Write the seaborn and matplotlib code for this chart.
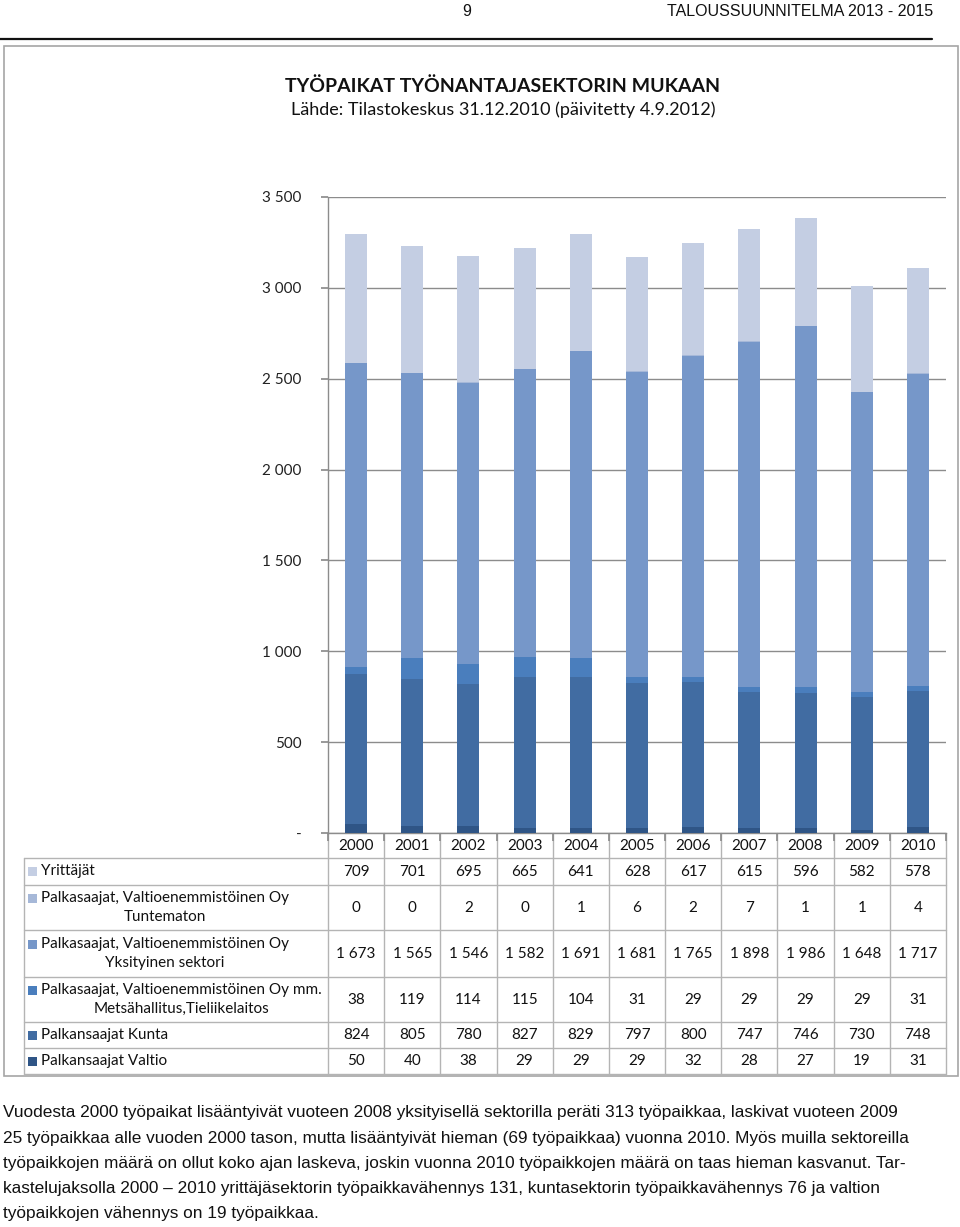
import numpy as np
import pandas as pd
import matplotlib
matplotlib.use("Agg")
import matplotlib.pyplot as plt
from matplotlib import font_manager as fm
from matplotlib.patches import Rectangle
import seaborn as sns

# ---------------- data ----------------
years = ["2000", "2001", "2002", "2003", "2004", "2005", "2006", "2007", "2008", "2009", "2010"]
valtio = [50, 40, 38, 29, 29, 29, 32, 28, 27, 19, 31]
kunta = [824, 805, 780, 827, 829, 797, 800, 747, 746, 730, 748]
metsa = [38, 119, 114, 115, 104, 31, 29, 29, 29, 29, 31]
yksityinen = [1673, 1565, 1546, 1582, 1691, 1681, 1765, 1898, 1986, 1648, 1717]
tuntematon = [0, 0, 2, 0, 1, 6, 2, 7, 1, 1, 4]
yrittajat = [709, 701, 695, 665, 641, 628, 617, 615, 596, 582, 578]

series_names = ["Palkansaajat Valtio", "Palkansaajat Kunta",
                "Palkasaajat, Valtioenemmistöinen Oy mm.\nMetsähallitus,Tieliikelaitos",
                "Palkasaajat, Valtioenemmistöinen Oy\nYksityinen sektori",
                "Palkasaajat, Valtioenemmistöinen Oy\nTuntematon",
                "Yrittäjät"]
series_vals = [valtio, kunta, metsa, yksityinen, tuntematon, yrittajat]
colors = ["#2f5586", "#416ca2", "#4a7ebd", "#7697c9", "#a6b8d8", "#c4cee3"]
yticks = [0, 500, 1000, 1500, 2000, 2500, 3000, 3500]
ytick_labels = ["-", "500", "1 000", "1 500", "2 000", "2 500", "3 000", "3 500"]

title = "TYÖPAIKAT TYÖNANTAJASEKTORIN MUKAAN"
subtitle = "Lähde: Tilastokeskus 31.12.2010 (päivitetty 4.9.2012)"
page_no = "9"
page_header = "TALOUSSUUNNITELMA 2013 - 2015"
paragraph = [
    "Vuodesta 2000 työpaikat lisääntyivät vuoteen 2008 yksityisellä sektorilla peräti 313 työpaikkaa, laskivat vuoteen 2009",
    "25 työpaikkaa alle vuoden 2000 tason, mutta lisääntyivät hieman (69 työpaikkaa) vuonna 2010. Myös muilla sektoreilla",
    "työpaikkojen määrä on ollut koko ajan laskeva, joskin vuonna 2010 työpaikkojen määrä on taas hieman kasvanut. Tar-",
    "kastelujaksolla 2000 – 2010 yrittäjäsektorin työpaikkavähennys 131, kuntasektorin työpaikkavähennys 76 ja valtion",
    "työpaikkojen vähennys on 19 työpaikkaa.",
]

def fmt(v):
    return f"{v:,}".replace(",", " ")

# ---------------- fonts ----------------
sns.set_theme(style="white")
avail = {f.name for f in fm.fontManager.ttflist}
if "Liberation Sans Narrow" in avail:
    narrow, para_size, head_size = "Liberation Sans Narrow", 13.3 * 1.10, 13 * 1.05
else:
    narrow, para_size, head_size = "Liberation Sans", 11.3 * 1.10, 11 * 1.05
cfont = "Lato" if "Lato" in avail else "DejaVu Sans"
plt.rcParams["font.family"] = [cfont, "DejaVu Sans"]

W, H = 960, 1227
fig = plt.figure(figsize=(W / 100, H / 100), dpi=100)
fig.patch.set_facecolor("white")

# pixel-coordinate overlay canvas
cv = fig.add_axes([0, 0, 1, 1])
cv.set_xlim(0, W)
cv.set_ylim(H, 0)
cv.axis("off")

# ---------------- chart ----------------
L, R, T, B = 328, 946, 197, 833
ax = fig.add_axes([L / W, 1 - B / H, (R - L) / W, (B - T) / H])
ax.set_facecolor("none")

cum = np.cumsum(np.array(series_vals), axis=0)
rows = []
for i in range(len(series_names)):
    for j, yr in enumerate(years):
        rows.append({"year": yr, "series": i, "cum": cum[i, j]})
df = pd.DataFrame(rows)
for i in reversed(range(len(series_names))):
    sub = df[df["series"] == i]
    sns.barplot(data=sub, x="year", y="cum", order=years, color=colors[i],
                saturation=1, width=0.39, ax=ax, errorbar=None, zorder=3,
                linewidth=0, edgecolor="none")

ax.set_xlim(-0.5, len(years) - 0.5)
ax.set_ylim(0, 3500)
ax.set_yticks(yticks)
ax.set_yticklabels(ytick_labels, fontsize=11, color="#222222")
ax.yaxis.grid(True, color="#8c8c8c", lw=1.0, zorder=0)
ax.set_axisbelow(True)
ax.set_xticks(np.arange(-0.5, len(years), 1.0))
ax.set_xticklabels([])
ax.tick_params(axis="y", length=5, color="#8c8c8c", pad=14, left=True)
ax.tick_params(axis="x", length=6, color="#8c8c8c", direction="out", bottom=True)
ax.set_xlabel("")
ax.set_ylabel("")
for s in ["top", "right"]:
    ax.spines[s].set_visible(False)
ax.spines["left"].set_color("#8c8c8c")
ax.spines["bottom"].set_color("#8c8c8c")
ax.spines["left"].set_linewidth(1.0)
ax.spines["bottom"].set_linewidth(1.0)

# ---------------- page header ----------------
cv.text(467, 11, page_no, ha="center", va="center", fontsize=head_size, family=narrow, color="#111111")
cv.text(933, 11, page_header, ha="right", va="center", fontsize=head_size, family=narrow, color="#111111")
cv.plot([0, 932], [38.5, 38.5], color="#111111", lw=1.6)

# chart border
cv.add_patch(Rectangle((3.5, 45.5), 954, 1030, fill=False, ec="#a6a6a6", lw=1.2))

cv.text(503, 86, title, ha="center", va="center", fontsize=14, fontweight="bold", color="#111111")
cv.text(503, 110, subtitle, ha="center", va="center", fontsize=13, color="#111111")

# ---------------- data table ----------------
colw = (R - L) / len(years)
edges = [L + k * colw for k in range(len(years) + 1)]
row_lines = [858, 885, 930, 977, 1022, 1048, 1074]
lc = "#b4b4b4"
for y in row_lines:
    cv.plot([24, R], [y, y], color=lc, lw=1.0)
for x in edges:
    cv.plot([x, x], [B, row_lines[-1]], color=lc, lw=1.0)
cv.plot([24, 24], [row_lines[0], row_lines[-1]], color=lc, lw=1.0)

for j, yr in enumerate(years):
    cv.text(edges[j] + colw / 2, 846.5, yr, ha="center", va="center", fontsize=11, color="#111111")

table_order = list(reversed(range(len(series_names))))  # Yrittäjät first
for r, si in enumerate(table_order):
    y0, y1 = row_lines[r], row_lines[r + 1]
    yc = (y0 + y1) / 2
    name = series_names[si]
    nlines = name.count("\n") + 1
    first_y = yc - (9.5 if nlines == 2 else 0)
    cv.add_patch(Rectangle((27.5, first_y - 4.5), 9, 9, color=colors[si], lw=0))
    cv.text(41, yc, name, ha="left", va="center", multialignment="center",
            fontsize=11, color="#111111", linespacing=1.4)
    for j in range(len(years)):
        cv.text(edges[j] + colw / 2, yc, fmt(series_vals[si][j]), ha="center", va="center",
                fontsize=11, color="#111111")

# ---------------- paragraph ----------------
for k, line in enumerate(paragraph):
    cv.text(3, 1113 + k * 25.2, line, ha="left", va="center", fontsize=para_size,
            family=narrow, color="#111111")

fig.savefig("out.png", dpi=100, facecolor="white")
